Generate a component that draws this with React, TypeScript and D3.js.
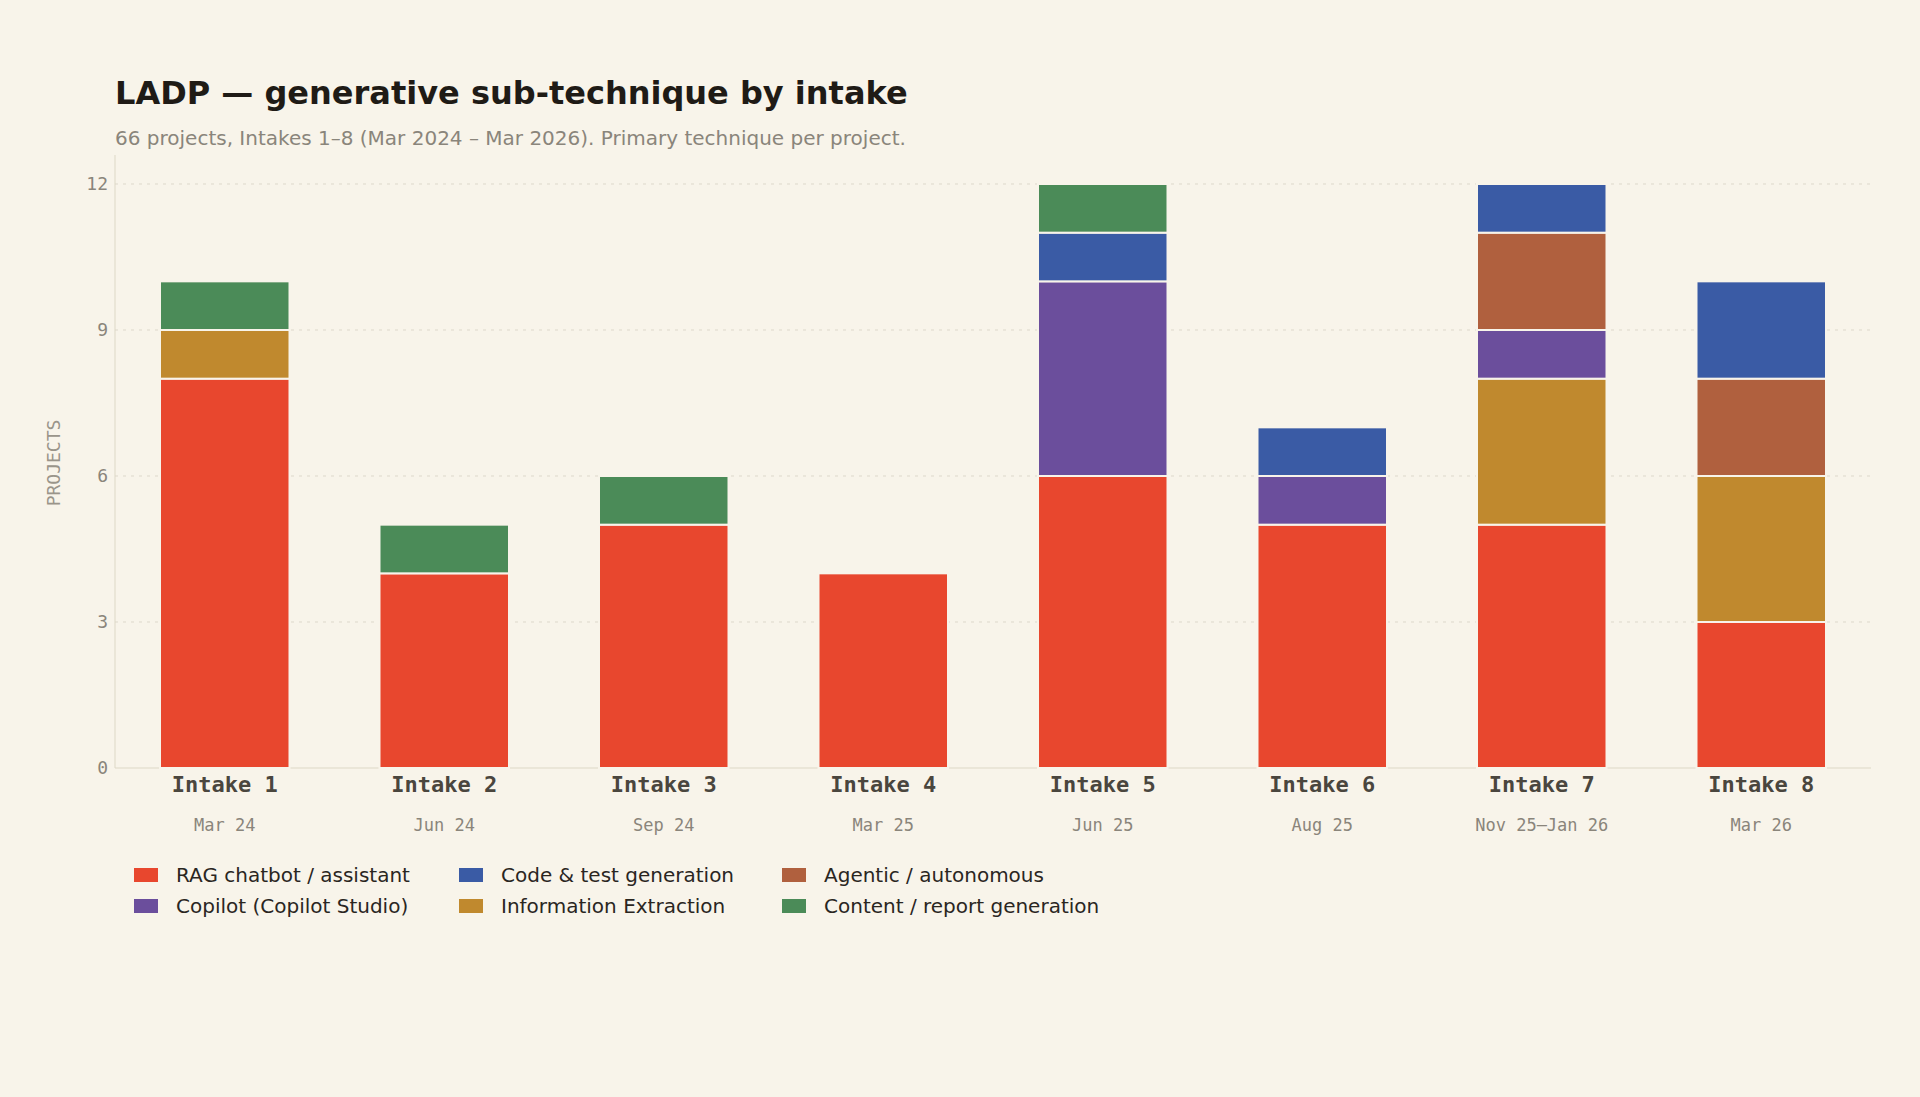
import React from 'react';
import * as d3 from 'd3';

const intakes = ['Intake 1', 'Intake 2', 'Intake 3', 'Intake 4', 'Intake 5', 'Intake 6', 'Intake 7', 'Intake 8'];
const dates = ['Mar 24', 'Jun 24', 'Sep 24', 'Mar 25', 'Jun 25', 'Aug 25', 'Nov 25\u2014Jan 26', 'Mar 26'];
const techniques = ['RAG chatbot / assistant', 'Information Extraction', 'Copilot (Copilot Studio)', 'Agentic / autonomous', 'Code & test generation', 'Content / report generation'];
const colors = ['#e8472e', '#c0892e', '#6b4e9c', '#b0603e', '#3a5ba5', '#4b8b58'];
const rag = [8, 4, 5, 4, 6, 5, 5, 3];
const extraction = [1, 0, 0, 0, 0, 0, 3, 3];
const copilot = [0, 0, 0, 0, 4, 1, 1, 0];
const agentic = [0, 0, 0, 0, 0, 0, 2, 2];
const code = [0, 0, 0, 0, 1, 1, 1, 2];
const content = [1, 1, 1, 0, 1, 0, 0, 0];
const yTicks = [0, 3, 6, 9, 12];

const series = [rag, extraction, copilot, agentic, code, content];
const legendOrder = [0, 2, 4, 1, 3, 5];

const W = 1920, H = 1097;
const left = 115, right = 1871, top = 155, bottom = 768;
const mono = '"DejaVu Sans Mono", monospace';
const sans = '"DejaVu Sans", sans-serif';

export default function App() {
  const x = d3.scaleBand<string>().domain(intakes).range([left, right]).paddingInner(0.41).paddingOuter(0.205);
  const y = d3.scaleLinear().domain([0, 12]).range([bottom, 184]);
  const rows = intakes.map((_, i) => {
    const r: Record<string, number> = {};
    techniques.forEach((t, k) => (r[t] = series[k][i]));
    return r;
  });
  const stacked = d3.stack<Record<string, number>>().keys(techniques)(rows);

  return (
    <svg width={W} height={H} style={{ display: 'block', position: 'absolute', left: 0, top: 0, background: '#f8f4ea' }}>
      <rect width={W} height={H} fill="#f8f4ea" />
      <text x={115} y={104} fontFamily={sans} fontWeight="bold" fontSize={32} fill="#1f1b16">LADP — generative sub-technique by intake</text>
      <text x={115} y={145} fontFamily={sans} fontSize={20} fill="#8a857b">66 projects, Intakes 1–8 (Mar 2024 – Mar 2026).  Primary technique per project.</text>
      {yTicks.map(t => (
        <g key={t}>
          {t > 0 && <line x1={left} x2={right} y1={y(t)} y2={y(t)} stroke="#ddd8cb" strokeDasharray="3,5" />}
          <text x={108} y={y(t) + 6} textAnchor="end" fontFamily={mono} fontSize={18} fill="#8a857b">{t}</text>
        </g>
      ))}
      <line x1={left} x2={left} y1={top} y2={bottom} stroke="#ddd8c6" />
      <line x1={left} x2={right} y1={bottom} y2={bottom} stroke="#ddd8c6" />
      <text transform={`translate(60,463) rotate(-90)`} textAnchor="middle" fontFamily={mono} fontSize={18} fill="#9a958a">PROJECTS</text>
      {stacked.map((s, k) => s.map((d, i) => d[1] > d[0] && (
        <rect key={`${k}-${i}`} x={x(intakes[i])} width={x.bandwidth()} y={y(d[1])} height={y(d[0]) - y(d[1])}
          fill={colors[k]} stroke="#f8f4ea" strokeWidth={2} />
      )))}
      {intakes.map((c, i) => (
        <g key={c}>
          <text x={x(c)! + x.bandwidth() / 2} y={792} textAnchor="middle" fontFamily={mono} fontWeight="bold" fontSize={22} fill="#4a463e">{c}</text>
          <text x={x(c)! + x.bandwidth() / 2} y={831} textAnchor="middle" fontFamily={mono} fontSize={17} fill="#8a857b">{dates[i]}</text>
        </g>
      ))}
      {legendOrder.map((k, j) => {
        const col = Math.floor(j / 2), row = j % 2;
        const lx = [134, 459, 782][col], ly = [875, 906][row];
        return (
          <g key={k}>
            <rect x={lx} y={ly - 7} width={24} height={14} fill={colors[k]} />
            <text x={lx + 42} y={ly + 7} fontFamily={sans} fontSize={20} fill="#2a261f">{techniques[k]}</text>
          </g>
        );
      })}
    </svg>
  );
}
